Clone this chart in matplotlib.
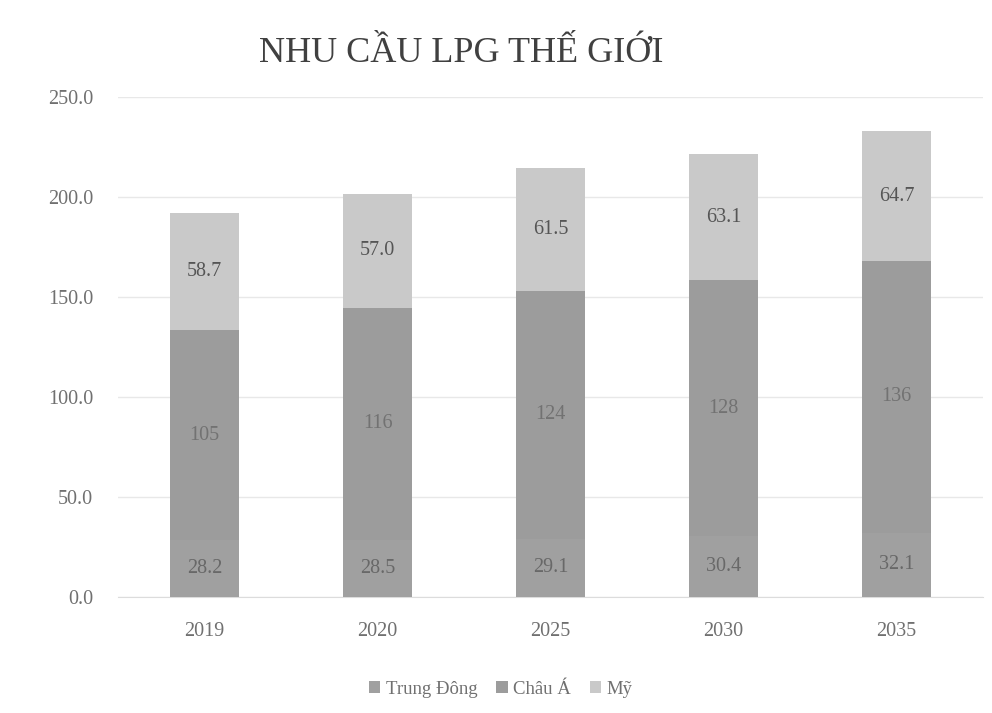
import matplotlib
matplotlib.use('Agg')
import matplotlib.pyplot as plt
import numpy as np

years = ['2019', '2020', '2025', '2030', '2035']
trung_dong = [28.2, 28.5, 29.1, 30.4, 32.1]
chau_a = [105, 116, 124, 128, 136]
my = [58.7, 57.0, 61.5, 63.1, 64.7]

lbl_td = ['28.2', '28.5', '29.1', '30.4', '32.1']
lbl_ca = ['105', '116', '124', '128', '136']
lbl_my = ['58.7', '57.0', '61.5', '63.1', '64.7']

plt.rcParams['font.family'] = ['Liberation Serif', 'DejaVu Serif']

fig = plt.figure(figsize=(9.92, 7.13), dpi=100)
ax = fig.add_axes([0.119, 0.163, 0.872, 0.701])

x = np.arange(len(years))
w = 0.40
c_td, c_ca, c_my = '#a0a0a0', '#9c9c9c', '#c9c9c9'

b1 = ax.bar(x, trung_dong, w, color=c_td, label='Trung Đông', zorder=3)
b2 = ax.bar(x, chau_a, w, bottom=trung_dong, color=c_ca, label='Châu Á', zorder=3)
bottom2 = np.array(trung_dong) + np.array(chau_a)
b3 = ax.bar(x, my, w, bottom=bottom2, color=c_my, label='Mỹ', zorder=3)

# value labels centred in each segment
ax.bar_label(b1, labels=lbl_td, label_type='center', fontsize=14.5, color='#686868', zorder=4)
ax.bar_label(b2, labels=lbl_ca, label_type='center', fontsize=14.5, color='#727272', zorder=4)
ax.bar_label(b3, labels=lbl_my, label_type='center', fontsize=14.5, color='#555555', zorder=4)

ax.set_xlim(-0.5, len(years) - 0.5)
ax.set_ylim(0, 250)
ax.set_yticks(np.arange(0, 251, 50))
ax.set_yticklabels([f'{v:.1f}' for v in np.arange(0, 251, 50)])
ax.set_xticks(x)
ax.set_xticklabels(years)
ax.tick_params(axis='both', length=0, labelsize=14.5, colors='#707070')
ax.tick_params(axis='y', pad=18)
ax.tick_params(axis='x', pad=18)
ax.yaxis.grid(True, color='#e8e8e8', linewidth=1, zorder=0)
for s in ['top', 'right', 'left']:
    ax.spines[s].set_visible(False)
ax.spines['bottom'].set_color('#dcdcdc')

fig.text(0.465, 0.925, 'NHU CẦU LPG THẾ GIỚI', ha='center', va='center',
         fontsize=26, color='#404040')

leg = fig.legend(handles=[b1, b2, b3], loc='center', bbox_to_anchor=(0.505, 0.033),
                 ncol=3, frameon=False, fontsize=13.5, handlelength=0.6, handleheight=0.6,
                 handletextpad=0.3, columnspacing=1.0, labelcolor='#707070')

fig.savefig('out.png', dpi=100)
